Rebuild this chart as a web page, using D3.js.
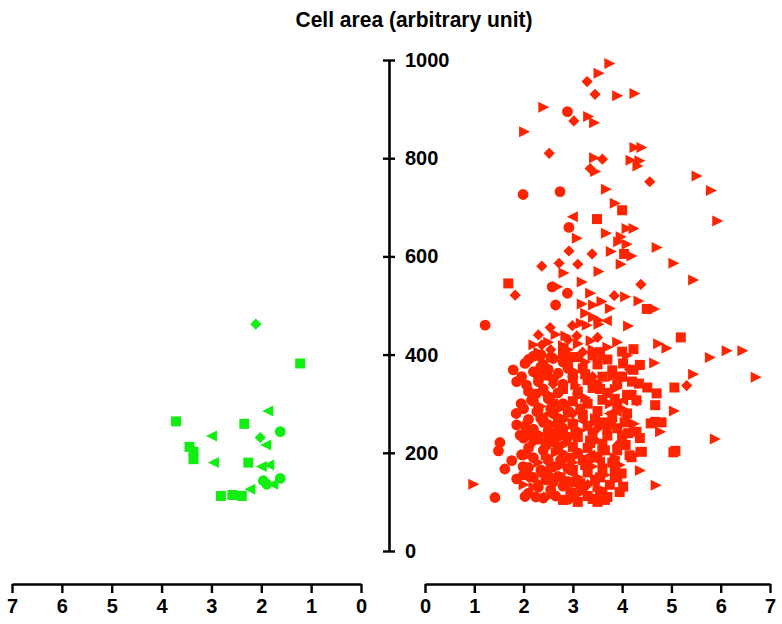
<!DOCTYPE html>
<html>
<head>
<meta charset="utf-8">
<script src="https://cdn.jsdelivr.net/npm/d3@7"></script>
<style>
  body { margin: 0; background: #fff; }
  text { font-family: "Liberation Sans", Arial, sans-serif; font-weight: bold; }
</style>
</head>
<body>
<svg id="chart" width="782" height="624"></svg>
<script>
// ticks
var yTicks = [0, 200, 400, 600, 800, 1000];
var xTicks = [0, 1, 2, 3, 4, 5, 6, 7];

// left panel (green), x runs 7 -> 0
var greenSquares = [[1.22,382],[3.71,264],[2.34,259],[3.44,212],[3.36,202],[3.36,187],[2.26,180],[2.81,112],[2.58,114],[2.39,112]];
var greenCircles = [[1.62,243],[1.96,143],[1.89,136],[1.62,148]];
var greenDiamonds = [[2.11,462],[2.02,231]];
var greenTriangles = [[1.86,285],[2.99,234],[1.90,216],[2.95,180],[1.99,172],[1.84,175],[1.76,136],[2.22,126]];

// right panel (red)
var redCircles = [[2.89,895],[1.99,726],[2.74,732],[2.92,659],[2.89,525],[2.65,501],[1.22,460],[2.58,538],
  [1.86,257],[1.52,221],[1.49,204],[1.76,184],[1.62,167],[1.86,147],[1.42,109],[2.03,111],[1.93,236],[2.16,307],
  [2.27,284],[1.96,196],[1.99,172],[2.13,151],[1.86,345],[2.06,338],[2.30,355],[2.47,358],[2.20,397],[2.33,397],
  [2.03,382],[1.79,369],[2.81,413],[1.96,355],
  [2.1,390],[2.4,380],[2.6,392],[2.8,385],[2.2,365],[2.5,370],[2.7,362],[2.9,372],[2.3,345],[2.6,350],[2.8,340],
  [2.1,325],[2.4,330],[2.7,322],[2.2,305],[2.5,310],[2.8,300],[2.0,290],[2.3,288],[2.6,280],[2.9,285],[2.1,268],
  [2.4,262],[2.7,270],[2.2,248],[2.5,245],[2.8,250],[2.0,230],[2.3,228],[2.6,222],[2.9,232],[2.1,210],[2.4,205],
  [2.7,212],[2.2,190],[2.5,185],[2.8,195],[2.1,170],[2.35,165],[2.6,172],[2.9,168],[2.2,150],[2.45,145],[2.7,152],
  [2.3,130],[2.55,125],[2.8,132],[2.1,118],[2.4,108],[2.65,112],[2.9,105],[3.0,355],[3.1,320],[3.0,260],[3.1,200],
  [3.0,140],[2.35,400],[1.95,300],[1.85,280],[2.05,250],
  [2.25,320],[2.55,290],[2.35,270],[2.65,240],[2.15,235],[2.45,215],[2.75,185],[2.55,170],[2.25,110],[2.6,140],
  [2.0,155],[2.35,375],[2.55,395]];
var redSquares = [[4.00,694],[3.49,676],[4.04,605],[1.69,545],[4.50,493],[5.19,435],[4.00,406],[4.23,411],[4.02,382],
  [4.36,379],[4.23,369],[5.06,333],[4.34,341],[4.51,333],[4.70,321],[4.67,297],[4.19,318],[4.29,307],[4.67,263],
  [4.58,260],[4.80,262],[4.12,240],[4.36,230],[4.29,243],[4.07,216],[4.40,202],[4.19,191],[3.85,184],[3.99,158],
  [4.02,131],[3.65,104],[5.04,201],[5.08,204],
  [2.8,402],[3.1,395],[3.4,398],[3.7,390],[2.9,378],[3.2,372],[3.5,380],[3.8,368],[4.0,355],[3.0,352],[3.3,348],
  [3.6,355],[3.9,340],[2.8,330],[3.1,325],[3.4,332],[3.7,322],[4.1,318],[3.0,305],[3.3,300],[3.6,308],[3.9,298],
  [2.9,282],[3.2,278],[3.5,285],[3.8,275],[4.1,280],[3.0,258],[3.3,255],[3.6,262],[3.9,250],[2.8,238],[3.1,232],
  [3.4,240],[3.7,235],[4.0,228],[3.0,212],[3.3,210],[3.6,218],[3.9,205],[2.9,190],[3.2,185],[3.5,192],[3.8,180],
  [3.0,165],[3.3,160],[3.6,168],[3.9,150],[2.85,142],[3.15,138],[3.45,145],[3.75,135],[3.0,118],[3.3,112],[3.6,120],
  [2.8,104],[3.1,100],[3.4,106],[3.7,110],[2.6,300],[2.5,230],[2.4,160],[3.55,405],[4.2,345],[4.05,262],[4.15,195],
  [3.95,120],
  [2.95,395],[3.25,360],[3.55,330],[3.85,310],[3.15,290],[3.45,265],[3.75,260],[3.05,240],[3.35,220],[3.65,205],
  [3.25,175],[3.55,150],[3.85,165],[3.2,130],[3.5,100],[2.75,150],[2.7,260],[3.95,355]];
var redTriangles = [[3.74,993],[3.52,973],[3.90,927],[4.25,932],[2.40,904],[3.31,885],[3.43,872],[2.01,854],[4.25,822],
  [4.39,822],[3.43,801],[4.17,796],[4.35,795],[4.31,784],[3.45,773],[5.51,764],[5.80,734],[3.67,737],[3.85,708],
  [5.93,672],[4.09,657],[4.23,657],[3.67,647],[3.08,637],[3.97,640],[3.92,630],[4.09,625],[4.70,618],[3.77,610],
  [4.19,601],[5.04,586],[3.97,584],[3.52,569],[2.81,566],[5.44,552],[3.18,548],[2.68,538],[3.35,525],[4.06,518],
  [4.33,509],[3.18,503],[3.41,501],[3.58,508],[3.75,494],[4.65,493],[3.25,484],[3.41,476],[3.52,470],[3.16,464],
  [3.28,460],[3.52,462],[4.12,458],[2.65,441],[2.85,438],[3.36,428],[4.73,422],[4.90,413],[6.12,408],[6.44,408],
  [5.78,394],[4.65,383],[5.44,360],[6.71,354],[5.05,285],[5.88,228],[4.77,243],[4.24,259],[4.37,201],[4.36,164],
  [4.68,134],[0.98,136],
  [2.2,420],[2.5,425],[2.8,418],[3.1,422],[3.4,410],[3.7,415],[3.9,425],[2.3,405],[2.95,392],[3.25,385],[3.6,395],
  [4.1,398],[2.45,355],[3.05,338],[3.5,342],[3.85,330],[2.6,315],[3.25,312],[3.75,300],[2.35,295],[2.85,268],
  [3.45,270],[4.0,290],[2.6,258],[3.15,245],[3.7,248],[2.35,238],[2.9,220],[3.5,225],[4.0,240],[2.65,200],[3.1,195],
  [3.6,200],[2.3,180],[2.8,175],[3.4,172],[3.95,175],[2.55,155],[3.1,150],[3.65,155],[2.3,140],[2.95,125],[3.5,130],
  [2.5,110],[3.2,120],[3.85,145],[2.0,135],[2.75,290],[3.35,225],[2.1,195],
  [2.45,195],[2.2,130],[3.55,115],[3.0,180],[2.75,230],[3.85,190],[3.4,185],[3.05,365],[3.8,355],[2.9,410]];
var redDiamonds = [[3.29,956],[3.45,930],[3.02,876],[2.52,810],[3.60,798],[3.35,779],[4.56,752],[2.92,611],[3.39,605],
  [2.37,580],[2.72,586],[3.10,584],[4.38,543],[1.83,521],[3.84,520],[2.99,459],[2.54,455],[3.08,438],[2.37,420],
  [5.31,337],
  [2.3,440],[2.55,410],[2.9,430],[3.2,405],[3.5,435],[2.45,320],[3.0,280],[3.5,250],[2.7,175],[3.3,135],[2.2,222],
  [3.8,265],[4.15,370],[3.4,355],[2.6,340],[4.3,305],[3.9,215],[2.05,260]];
var redLeftTriangles = [[3.00,681],[3.69,469],[4.02,307],[3.89,284],[3.75,280],[2.4,275],[3.2,265],[2.7,215],
  [3.55,182],[2.95,160],[3.35,195]];

var GREEN = "#12ee12";
var RED = "#ff2400";

var svg = d3.select("#chart");

var y = d3.scaleLinear().domain([0, 1000]).range([551, 60]);
var xLeft = d3.scaleLinear().domain([7, 0]).range([12, 361]);
var xRight = d3.scaleLinear().domain([0, 7]).range([425, 770]);

// marker shapes, centred on 0,0
var shapes = {
  square: d3.symbol(d3.symbolSquare, 100)(),
  circle: d3.symbol(d3.symbolCircle, 92)(),
  diamond: "M0,-5.6L5.6,0L0,5.6L-5.6,0Z",
  triRight: "M-5,-5.5L6,0L-5,5.5Z",
  triLeft: "M5,-5.5L-6,0L5,5.5Z"
};

function plot(data, xs, shape, color) {
  svg.append("g").selectAll("path")
    .data(data)
    .enter().append("path")
    .attr("d", shapes[shape])
    .attr("fill", color)
    .attr("transform", function(d) { return "translate(" + xs(d[0]) + "," + y(d[1]) + ")"; });
}

plot(greenSquares, xLeft, "square", GREEN);
plot(greenCircles, xLeft, "circle", GREEN);
plot(greenDiamonds, xLeft, "diamond", GREEN);
plot(greenTriangles, xLeft, "triLeft", GREEN);

plot(redCircles, xRight, "circle", RED);
plot(redSquares, xRight, "square", RED);
plot(redDiamonds, xRight, "diamond", RED);
plot(redTriangles, xRight, "triRight", RED);
plot(redLeftTriangles, xRight, "triLeft", RED);

var fmt = d3.format("d");

// y axis in the middle, ticks cross the line
var yAxis = svg.append("g")
  .attr("transform", "translate(389,0)")
  .call(d3.axisRight(y).tickValues(yTicks).tickFormat(fmt).tickSize(6).tickSizeOuter(0));
yAxis.select(".domain").attr("stroke-width", 2.6);
yAxis.selectAll(".tick line").attr("x1", -6).attr("x2", 6).attr("stroke-width", 2.4);
yAxis.selectAll(".tick text").attr("x", 16).attr("font-size", 20)
  .attr("font-family", "Liberation Sans, Arial, sans-serif").attr("font-weight", "bold").attr("fill", "#000");

function xAxis(scale) {
  var g = svg.append("g")
    .attr("transform", "translate(0,584)")
    .call(d3.axisBottom(scale).tickValues(xTicks).tickFormat(fmt).tickSize(9).tickSizeOuter(0));
  g.select(".domain").attr("stroke-width", 2.6);
  g.selectAll(".tick line").attr("stroke-width", 2.4);
  g.selectAll(".tick text").attr("y", 15).attr("font-size", 20)
    .attr("font-family", "Liberation Sans, Arial, sans-serif").attr("font-weight", "bold").attr("fill", "#000");
  return g;
}
xAxis(xLeft);
xAxis(xRight);

svg.append("text")
  .attr("x", 414).attr("y", 27)
  .attr("text-anchor", "middle")
  .attr("font-size", 22)
  .attr("textLength", 237)
  .attr("lengthAdjust", "spacingAndGlyphs")
  .text("Cell area (arbitrary unit)");
</script>
</body>
</html>
